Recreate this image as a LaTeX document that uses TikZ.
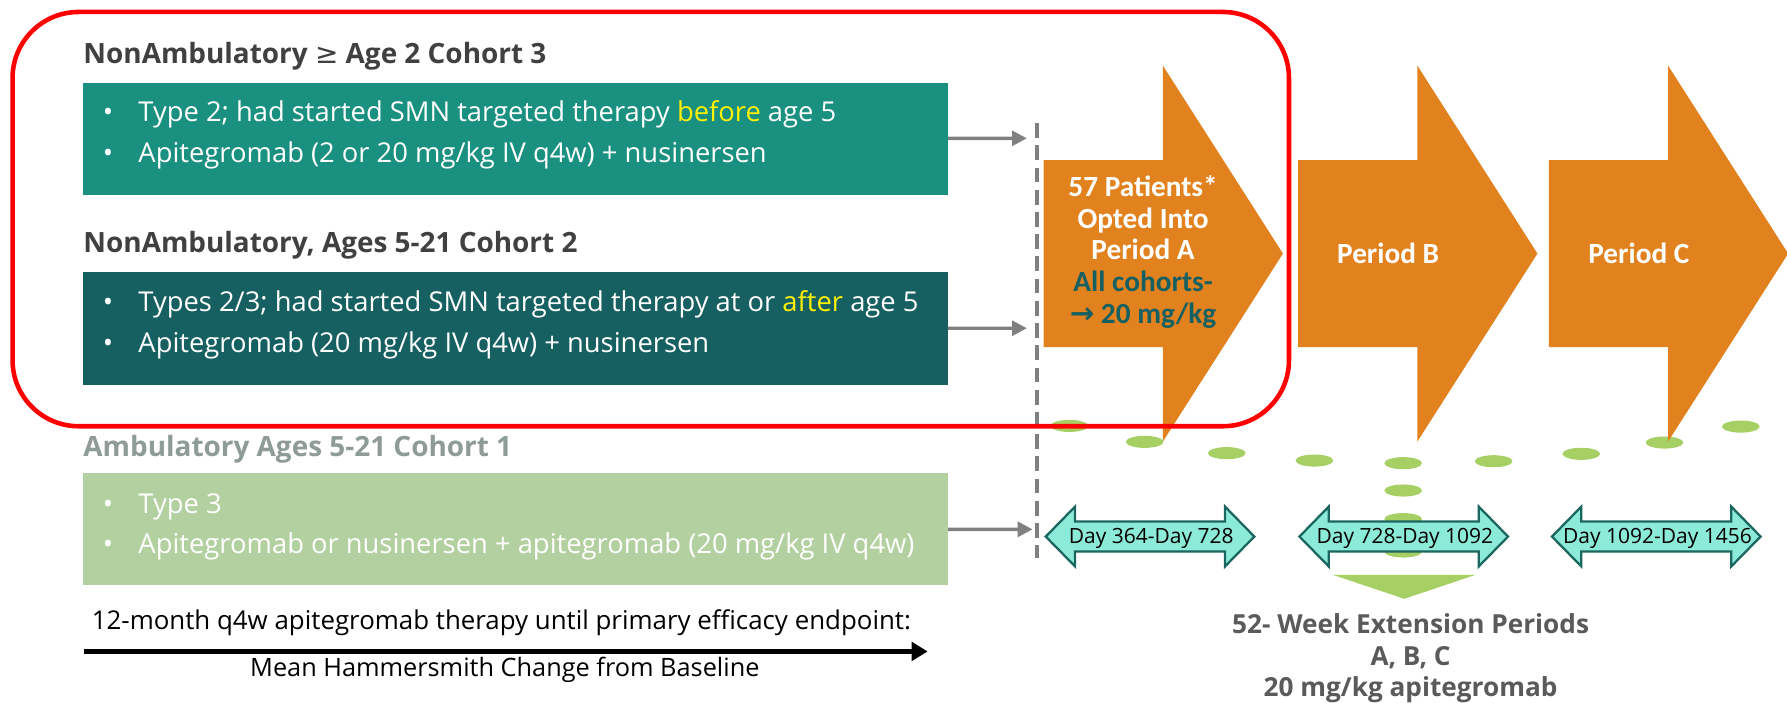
\documentclass[tikz,border=0pt]{standalone}
\usepackage{fontspec}
\setmainfont{Open Sans}
\newfontfamily\calfont{Carlito}
\newfontfamily\symfont{DejaVu Sans}
\usetikzlibrary{arrows.meta,positioning}

\definecolor{tealA}{HTML}{1A9080}
\definecolor{tealB}{HTML}{176062}
\definecolor{sage}{HTML}{B3D1A0}
\definecolor{headgray}{HTML}{404040}
\definecolor{fadegray}{HTML}{8F9C96}
\definecolor{periodorange}{HTML}{E2821F}
\definecolor{dotgreen}{HTML}{A6D064}
\definecolor{dayfill}{HTML}{8CEBD8}
\definecolor{dayline}{HTML}{1B6660}
\definecolor{extgray}{HTML}{5A5A5A}
\definecolor{arrowgray}{HTML}{808080}

\begin{document}
\begin{tikzpicture}[x=1pt,y=-1pt,
    cohortbox/.style={minimum width=759pt,minimum height=98.3pt,inner sep=0pt,anchor=north west},
    cohorttitle/.style={anchor=base west,inner sep=0pt,font=\fontsize{24.5}{30}\selectfont\bfseries},
    bullettext/.style={anchor=base west,inner sep=0pt,text=white,font=\fontsize{24}{30}\selectfont},
    periodtext/.style={anchor=base,inner sep=0pt,font=\calfont\fontsize{25.7}{28}\selectfont\bfseries},
    grayarrow/.style={draw=arrowgray,line width=3pt,-{Triangle[length=13pt,width=13pt]}},
    dayarrow/.style={draw=dayline,fill=dayfill,line width=2pt},
    daytext/.style={anchor=base,inner sep=0pt,font=\fontsize{18.4}{22}\selectfont},
    exttext/.style={anchor=base,inner sep=0pt,text=extgray,font=\fontsize{23}{28}\selectfont\bfseries}]
  \fill[white] (0,0) rectangle (1568,616);
  \useasboundingbox (0,0) rectangle (1568,616);

  % dotted path into the extension periods
  \foreach \x/\y in {938.4/373.7,1004.4/387.7,1076.4/397.6,1153.3/404.1,1231.2/406.4,
      1310.6/404.7,1387.5/398.2,1460.5/388.3,1527.5/374.3,1231.2/430.4,1231.2/455.5,1231.2/483.9}
    \fill[dotgreen] (\x,\y) ellipse [x radius=16.5,y radius=5.3];
  \fill[dotgreen] (1169.6,504.4) -- (1294.7,504.4) -- (1232.2,525.4) -- cycle;

  % period arrows
  \foreach \x in {915.7,1139,1359}
    \fill[periodorange] (\x,140.5) -- (\x+104.6,140.5) -- (\x+104.6,57.5) -- (\x+210,222.5)
      -- (\x+104.6,387.5) -- (\x+104.6,304.5) -- (\x,304.5) -- cycle;
  \node[periodtext,text=white] (pa1) at (1003,172.6) {57 Patients*};
  \node[periodtext,text=white] (pa2) at (1003,200.3) {Opted Into};
  \node[periodtext,text=white] (pa3) at (1003,228.1) {Period A};
  \node[periodtext,text=tealB] (pa4) at (1003,255.9) {All cohorts-};
  \node[periodtext,text=tealB] (pa5) at (1003,283.7) {{\symfont\bfseries →} 20 mg/kg};
  \node[periodtext,text=white] (pb) at (1218,231.6) {Period B};
  \node[periodtext,text=white] (pc) at (1438,231.6) {Period C};

  % 52-week windows
  \foreach \c/\lab [count=\i] in {1009.1/{Day 364-Day 728},1231.7/{Day 728-Day 1092},1453.3/{Day 1092-Day 1456}}{
    \draw[dayarrow] (\c-91.5,470.8) -- (\c-65.8,444.5) -- (\c-65.8,457.6) -- (\c+65.8,457.6)
      -- (\c+65.8,444.5) -- (\c+91.5,470.8) -- (\c+65.8,497) -- (\c+65.8,483.9)
      -- (\c-65.8,483.9) -- (\c-65.8,497) -- cycle;
    \node[daytext] (day\i) at (\c+1,477.2) {\lab};
  }

  \node[exttext] (ext1) at (1237.7,555.6) {52- Week Extension Periods};
  \node[exttext] (ext2) at (1237.7,583.9) {A, B, C};
  \node[exttext] (ext3) at (1237.7,611) {20 mg/kg apitegromab};

  % cohorts
  \node[cohorttitle,text=headgray] (t3) at (73,55.5) {NonAmbulatory {\symfont\mdseries ≥} Age 2 Cohort 3};
  \node[cohortbox,fill=tealA] (c3) at (72.5,72.2) {};
  \node[bullettext] (b31) at (90,106.7) {\makebox[31.3pt][l]{•}Type 2; had started SMN targeted therapy {\color{yellow}before} age 5};
  \node[bullettext] (b32) at (90,143) {\makebox[31.3pt][l]{•}Apitegromab (2 or 20 mg/kg IV q4w) + nusinersen};

  \node[cohorttitle,text=headgray] (t2) at (73,221.6) {NonAmbulatory, Ages 5-21 Cohort 2};
  \node[cohortbox,fill=tealB] (c2) at (72.5,238.9) {};
  \node[bullettext] (b21) at (90,273.4) {\makebox[31.3pt][l]{•}Types 2/3; had started SMN targeted therapy at or {\color{yellow}after} age 5};
  \node[bullettext] (b22) at (90,309.4) {\makebox[31.3pt][l]{•}Apitegromab (20 mg/kg IV q4w) + nusinersen};

  \node[cohorttitle,text=fadegray] (t1) at (73,400.6) {Ambulatory Ages 5-21 Cohort 1};
  \node[cohortbox,fill=sage] (c1) at (72.5,415.2) {};
  \node[bullettext] (b11) at (90,450.3) {\makebox[31.3pt][l]{•}Type 3};
  \node[bullettext] (b12) at (90,485.4) {\makebox[31.3pt][l]{•}Apitegromab or nusinersen + apitegromab (20 mg/kg IV q4w)};

  \node[anchor=base west,inner sep=0pt,font=\fontsize{22.7}{28}\selectfont] (cap) at (80.4,552) {12-month q4w apitegromab therapy until primary efficacy endpoint:};
  \coordinate (ms) at (73.7,571.6);
  \coordinate (me) at (814,571.6);
  \draw[line width=4.3pt,-{Triangle[length=14pt,width=16pt]}] (ms) -- (me);
  \node[anchor=base west,inner sep=0pt,font=\fontsize{22.2}{28}\selectfont] (mean) at (219.3,594) {Mean Hammersmith Change from Baseline};

  % into period A
  \coordinate (in3) at (901,121.35);
  \coordinate (in2) at (901,288);
  \coordinate (in1) at (906,464.45);
  \draw[grayarrow] (c3) -- (in3);
  \draw[grayarrow] (c2) -- (in2);
  \draw[grayarrow] (c1) -- (in1);
  \coordinate (dtop) at (910,108);
  \coordinate (dbot) at (910,490);
  \draw[arrowgray,line width=3pt,dash pattern=on 13pt off 6.5pt] (dtop) -- (dbot);

  \draw[red,line width=4pt,rounded corners=58pt] (11,10.5) rectangle (1131,374);
\end{tikzpicture}
\end{document}
